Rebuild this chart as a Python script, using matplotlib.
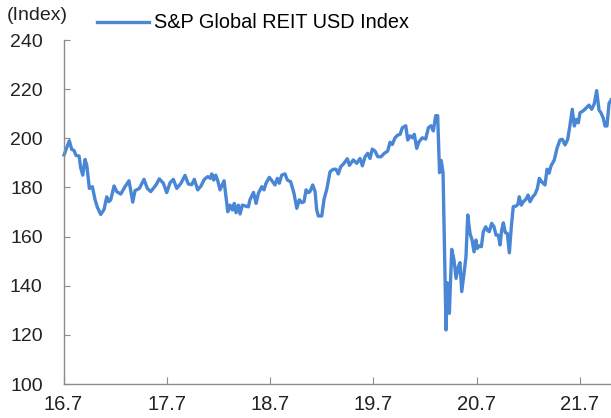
import matplotlib
matplotlib.use("Agg")
import matplotlib.pyplot as plt
import numpy as np
import pandas as pd

# years elapsed since 2016-07-01
t = [0.005, 0.029, 0.056, 0.079, 0.102, 0.121, 0.150, 0.167, 0.186, 0.208,
     0.225, 0.250, 0.279, 0.305, 0.327, 0.360, 0.392, 0.418, 0.438, 0.457,
     0.489, 0.515, 0.554, 0.595, 0.634, 0.670, 0.692, 0.734, 0.779, 0.811,
     0.844, 0.895, 0.927, 0.966, 0.999, 1.031, 1.063, 1.096, 1.137, 1.176,
     1.208, 1.241, 1.266, 1.299, 1.331, 1.363, 1.396, 1.421, 1.435, 1.454,
     1.473, 1.493, 1.515, 1.554, 1.590, 1.612, 1.634, 1.653, 1.670, 1.692,
     1.709, 1.731, 1.764, 1.789, 1.805, 1.839, 1.864, 1.886, 1.919, 1.941,
     1.960, 1.992, 2.018, 2.047, 2.070, 2.089, 2.112, 2.144, 2.167, 2.199,
     2.231, 2.258, 2.283, 2.306, 2.328, 2.348, 2.370, 2.386, 2.412, 2.435,
     2.451, 2.467, 2.500, 2.522, 2.548, 2.580, 2.612, 2.638, 2.660, 2.683,
     2.715, 2.747, 2.767, 2.805, 2.838, 2.870, 2.893, 2.919, 2.945, 2.967,
     2.989, 3.015, 3.042, 3.074, 3.106, 3.138, 3.161, 3.183, 3.209, 3.235,
     3.258, 3.280, 3.313, 3.332, 3.354, 3.377, 3.396, 3.419, 3.441, 3.473,
     3.506, 3.532, 3.558, 3.580, 3.603, 3.622, 3.640, 3.656, 3.674, 3.703,
     3.715, 3.735, 3.758, 3.780, 3.800, 3.822, 3.838, 3.855, 3.877, 3.896,
     3.913, 3.935, 3.955, 3.974, 3.993, 4.006, 4.025, 4.045, 4.064, 4.087,
     4.107, 4.122, 4.145, 4.167, 4.187, 4.209, 4.226, 4.242, 4.258, 4.277,
     4.296, 4.316, 4.335, 4.354, 4.381, 4.400, 4.412, 4.432, 4.451, 4.477,
     4.497, 4.516, 4.542, 4.564, 4.587, 4.606, 4.629, 4.661, 4.681, 4.700,
     4.719, 4.751, 4.777, 4.806, 4.829, 4.855, 4.881, 4.903, 4.925, 4.945,
     4.964, 4.984, 5.000, 5.032, 5.065, 5.087, 5.113, 5.138, 5.161, 5.184,
     5.203, 5.226, 5.242, 5.261, 5.281, 5.300]

reit = [193.2, 196.0, 199.0, 195.5, 195.0, 193.0, 192.8, 187.8, 185.0, 191.4,
        189.0, 179.6, 180.3, 175.0, 172.0, 169.0, 171.0, 176.2, 174.2, 175.0,
        180.6, 178.3, 177.3, 180.3, 182.7, 174.0, 178.7, 179.6, 183.3, 179.6,
        178.3, 181.0, 183.5, 181.7, 177.9, 181.9, 183.3, 179.6, 181.7, 184.9,
        181.4, 181.1, 183.3, 179.0, 180.6, 183.3, 184.4, 183.7, 185.5, 183.0,
        185.0, 182.7, 179.0, 182.7, 170.1, 172.8, 170.8, 173.5, 169.7, 172.8,
        169.2, 172.8, 172.4, 172.1, 175.0, 178.0, 173.5, 177.6, 180.3, 179.0,
        181.7, 184.1, 182.7, 181.0, 183.7, 181.7, 185.0, 185.5, 183.0, 182.3,
        177.6, 171.5, 175.0, 173.8, 174.2, 179.0, 177.9, 178.3, 181.0, 178.3,
        170.8, 168.4, 168.4, 175.2, 179.2, 186.4, 187.4, 187.4, 185.5, 188.4,
        189.8, 191.7, 189.0, 191.2, 189.8, 191.8, 188.8, 192.5, 193.9, 191.8,
        195.6, 194.8, 192.5, 192.5, 193.9, 194.8, 198.4, 197.5, 200.2, 201.3,
        201.6, 204.3, 205.1, 199.3, 201.0, 200.2, 201.6, 195.9, 198.6, 200.2,
        199.7, 204.3, 205.1, 203.0, 209.2, 209.2, 186.0, 191.0, 186.0, 122.0,
        141.2, 128.8, 154.8, 150.5, 143.0, 147.7, 149.4, 137.6, 145.0, 151.8,
        168.8, 161.3, 158.6, 153.8, 158.6, 155.2, 156.2, 155.9, 162.0, 164.0,
        162.4, 162.0, 165.4, 164.0, 160.6, 160.6, 156.6, 162.7, 165.6, 161.6,
        161.3, 153.4, 164.0, 172.2, 172.4, 173.3, 176.2, 172.8, 174.2, 175.2,
        176.9, 174.2, 176.2, 177.2, 179.6, 183.7, 182.3, 181.0, 187.4, 185.8,
        188.7, 191.2, 195.9, 199.3, 199.6, 197.3, 199.6, 205.4, 211.8, 205.0,
        207.7, 206.3, 210.4, 211.2, 212.6, 213.5, 211.8, 214.0, 219.4, 211.5,
        210.4, 208.1, 205.0, 205.0, 214.2, 215.6]

tick_years = [2016, 2017, 2018, 2019, 2020, 2021]
tick_labels = ["16.7", "17.7", "18.7", "19.7", "20.7", "21.7"]

start = pd.Timestamp("2016-07-01")
dates = start + pd.to_timedelta(np.array(t) * 365.25, unit="D")
ticks = [pd.Timestamp(f"{y}-07-01") for y in tick_years]

plt.rcParams["font.family"] = ["Liberation Sans", "DejaVu Sans"]

fig = plt.figure(figsize=(6.11, 4.18), dpi=100)
ax = fig.add_axes([0.104, 0.0813, 0.896, 0.823])

ax.plot(dates, reit, color="#4a86d6", lw=2.4, label="S&P Global REIT USD Index",
        solid_joinstyle="round", clip_on=False)

ax.set_xlim(start, start + pd.Timedelta(days=5.30 * 365.25))
ax.set_ylim(100, 240)
ax.set_yticks(range(100, 241, 20))
ax.set_xticks(ticks)
ax.set_xticklabels(tick_labels)

for s in ["top", "right"]:
    ax.spines[s].set_visible(False)
for s in ["left", "bottom"]:
    ax.spines[s].set_color("#8c8c8c")
    ax.spines[s].set_linewidth(1.0)

ax.tick_params(axis="y", direction="in", length=4, color="#8c8c8c",
               labelsize=14, labelcolor="#222222", pad=15)
ax.tick_params(axis="x", direction="in", length=5, color="#8c8c8c",
               labelsize=14.5, labelcolor="#222222", pad=8)

fig.text(7 / 611, 1 - 16 / 418, "(Index)", fontsize=14, color="#222222",
         va="center", ha="left")
ax.legend(loc="center left", bbox_to_anchor=(97 / 611, 1 - 23 / 418),
          bbox_transform=fig.transFigure, frameon=False, fontsize=14.3,
          handlelength=2.6, handletextpad=0.26, borderpad=0, borderaxespad=0)

fig.savefig("out.png", dpi=100)
